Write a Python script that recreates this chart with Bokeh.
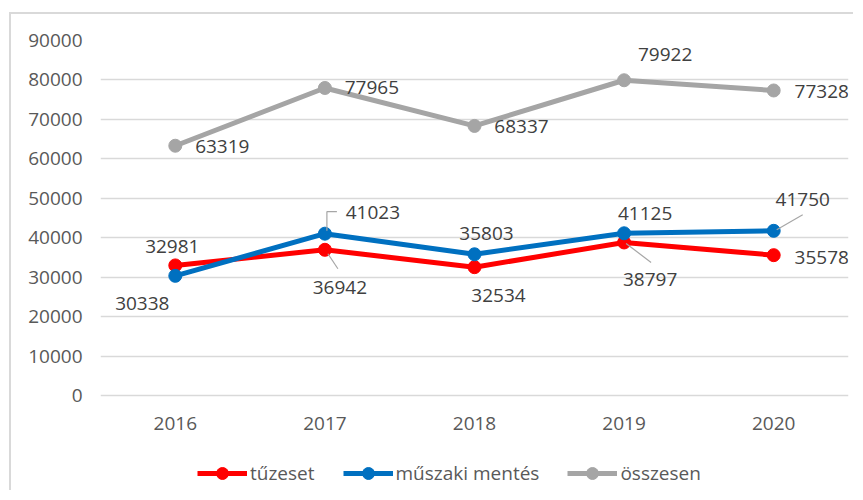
from bokeh.plotting import figure
from bokeh.models import Range1d, FixedTicker, Legend, LegendItem
from bokeh.core.properties import value
from bokeh.embed import file_html
from bokeh.resources import INLINE

# ---- data ----
years = ["2016", "2017", "2018", "2019", "2020"]
tuzeset = [32981, 36942, 32534, 38797, 35578]
muszaki = [30338, 41023, 35803, 41125, 41750]
osszesen = [63319, 77965, 68337, 79922, 77328]
series_names = ["tűzeset", "műszaki mentés", "összesen"]
y_ticks = [0, 10000, 20000, 30000, 40000, 50000, 60000, 70000, 80000, 90000]

# ---- style / geometry (pixels) ----
FONT = "Open Sans"
FS = "19px"
COLORS = ["#FF0000", "#0070C0", "#A5A5A5"]
W, H = 844, 478
FL, FR, FT = 89, 7, 26
PLOT_H = 355            # pixels from 0 to the top tick
BELOW = H - FT - PLOT_H  # pixels of the frame below the 0 line (axis labels + legend)
frame_w = W - FL - FR
y_top = y_ticks[-1]
uy = y_top / PLOT_H              # data units per pixel (y)
ux = len(years) / frame_w        # data units per pixel (x)
y_start = -BELOW * uy

xs = list(range(len(years)))

p = figure(width=W, height=H, output_backend="svg", toolbar_location=None,
           x_range=Range1d(-0.5, len(years) - 0.5), y_range=Range1d(y_start, y_top),
           x_axis_location=None,
           min_border_left=FL, min_border_right=FR, min_border_top=FT, min_border_bottom=0)
p.styles = {"border-left": "2px solid #d9d9d9", "border-top": "2px solid #d9d9d9",
            "margin-left": "9px", "margin-top": "12px"}
p.outline_line_color = None
p.background_fill_color = "white"
p.border_fill_color = "white"

for g in p.grid:
    if g.dimension == 0:
        g.visible = False
p.ygrid.grid_line_color = "#d9d9d9"
p.ygrid.grid_line_width = 1.5
p.yaxis.ticker = FixedTicker(ticks=y_ticks)
ax = p.yaxis[0]
ax.axis_line_color = None
ax.major_tick_line_color = None
ax.minor_tick_line_color = None
ax.major_tick_out = 0
ax.major_tick_in = 0
ax.minor_tick_out = 0
ax.minor_tick_in = 0
ax.major_label_text_font = FONT
ax.major_label_text_font_size = FS
ax.major_label_text_color = "#595959"
ax.major_label_standoff = 18

# category labels under the 0 line
p.text(xs, [0] * len(xs), text=years, y_offset=28,
       text_align="center", text_baseline="middle",
       text_font=value(FONT), text_font_size=FS, text_color="#595959")

all_series = [tuzeset, muszaki, osszesen]
items = []
for name, vals, col in zip(series_names, all_series, COLORS):
    lr = p.line(xs, vals, line_color=col, line_width=5, line_join="round")
    sr = p.scatter(xs, vals, size=13, fill_color=col, line_color=col)
    items.append(LegendItem(label=name, renderers=[lr, sr]))

# leader lines (pixel offsets from the data point, y down)
leaders = [
    (1, 1, [(12, -22), (2, -22), (2, -3)]),
    (0, 1, [(3, 4), (13, 19)]),
    (0, 3, [(2, 1), (27, 20)]),
    (1, 4, [(29, -16), (3, -1)]),
]
lx, ly = [], []
for s, i, pts in leaders:
    v = all_series[s][i]
    lx.append([xs[i] + dx * ux for dx, dy in pts])
    ly.append([v - dy * uy for dx, dy in pts])
p.multi_line(lx, ly, line_color="#a6a6a6", line_width=1.2)

# data label offsets (pixels, y down)
label_off = [
    [(-3, -19), (15, 38), (24, 28), (26, 37), (48, 2)],
    [(-33, 28), (48, -21), (12, -21), (21, -20), (29, -31)],
    [(47, 1), (47, 0), (47, 1), (41, -26), (48, 1)],
]
for vals, offs in zip(all_series, label_off):
    p.text(xs, vals, text=[str(v) for v in vals],
           x_offset=[o[0] for o in offs], y_offset=[o[1] for o in offs],
           text_align="center", text_baseline="middle",
           text_font=value(FONT), text_font_size=FS, text_color="#404040")

legend = Legend(items=items, location=(97, 4), orientation="horizontal",
                glyph_width=50, glyph_height=30, label_standoff=3, spacing=28,
                padding=0, margin=0, border_line_color=None, background_fill_alpha=0,
                label_text_font=FONT, label_text_font_size=FS, label_text_color="#595959")
p.add_layout(legend)

open("out.html", "w").write(file_html(p, INLINE))
